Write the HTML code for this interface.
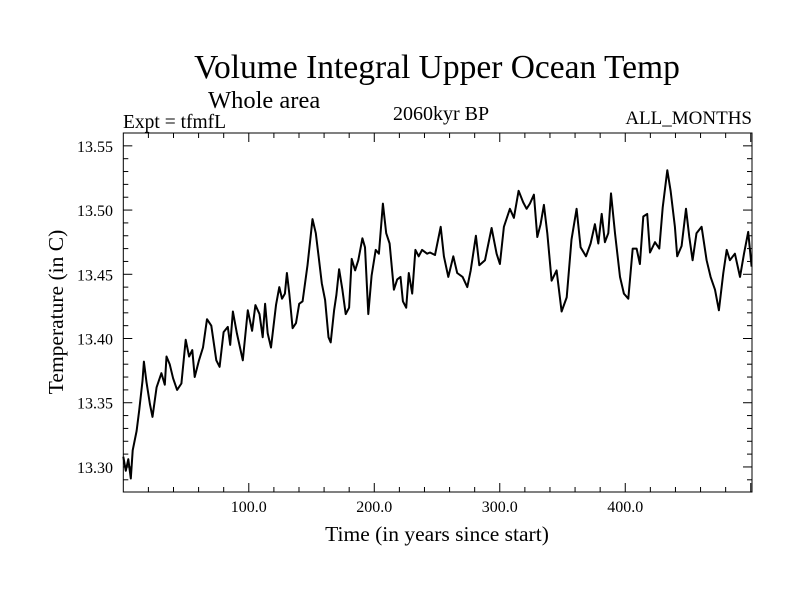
<!DOCTYPE html>
<html><head><meta charset="utf-8"><style>
html,body{margin:0;padding:0;background:#fff;}
svg{display:block;font-family:"Liberation Serif",serif;}
</style></head><body>
<svg id="chart" width="800" height="600" viewBox="0 0 800 600">
<text x="437" y="78" font-size="33.5" text-anchor="middle">Volume Integral Upper Ocean Temp</text>
<text x="208" y="108" font-size="24.5">Whole area</text>
<text x="123" y="128" font-size="19.5">Expt = tfmfL</text>
<text x="441" y="120" font-size="20" text-anchor="middle">2060kyr BP</text>
<text x="752" y="124" font-size="19" text-anchor="end">ALL_MONTHS</text>
<text x="437" y="541" font-size="21.5" text-anchor="middle">Time (in years since start)</text>
<text transform="translate(63,312) rotate(-90)" font-size="21.5" text-anchor="middle">Temperature (in C)</text>
<g id="axes"></g>
<path id="series" fill="none" stroke="#000" stroke-width="2" stroke-linejoin="round"/>
<rect x="123.3" y="133" width="628.7" height="359" fill="none" stroke="#000" stroke-width="1"/>
</svg>
<script>
const years=[0,2,4,6,7.5,10.6,12.7,15.3,16.4,18.5,21.2,23.3,26.5,30.4,33.1,34.4,37,39.7,42.9,46.3,49.7,52.4,55,56.9,60.3,63.5,66.7,70.1,74.1,76.7,79.9,83.3,85.2,87.3,90.5,95.2,99.2,102.6,105.3,108.5,111.1,113,115.1,117.7,121.7,124.3,126.5,128.8,130.4,132.3,134.9,137.6,140.2,142.9,146.8,150.8,153.4,155.6,158.2,160.8,163.5,165.3,168,169.8,172,174.6,177.2,179.9,182,184.7,187.3,190.5,192.6,195.2,197.9,201.1,203.7,206.9,209.5,212.2,215.6,218.3,220.9,222.8,225.4,227.5,230.2,232.8,235.4,238.1,242.1,244.4,248.4,252.9,255.5,259,263,266.1,270.4,274.1,276.8,281,283.7,288.2,293.5,297.5,300.1,303.3,308.1,311.3,315,318.7,321.4,324,327.2,329.9,332.5,335.2,337.9,341.3,345.3,349.3,353.3,357.2,361.2,364.4,368.7,372.4,375.8,378.5,381.2,383.8,386.5,388.6,391.8,395.8,398.9,402.4,405.9,409,411.7,414.4,417.5,419.7,423.7,427.1,429.8,433.5,436.1,439.6,441.4,444.9,448.4,451,453.7,456.8,460.8,464.8,468,471.5,474.6,478.1,480.8,483.4,487.4,491.4,494.6,498,500.7];
const temps=[13.308,13.297,13.306,13.291,13.313,13.328,13.344,13.367,13.382,13.366,13.349,13.339,13.362,13.373,13.364,13.386,13.380,13.369,13.360,13.365,13.399,13.386,13.391,13.370,13.383,13.393,13.415,13.410,13.383,13.378,13.405,13.409,13.395,13.421,13.404,13.383,13.422,13.406,13.426,13.419,13.401,13.427,13.404,13.393,13.426,13.440,13.431,13.435,13.451,13.435,13.408,13.412,13.427,13.429,13.457,13.493,13.482,13.464,13.443,13.430,13.401,13.397,13.422,13.434,13.454,13.438,13.419,13.424,13.462,13.453,13.461,13.478,13.471,13.419,13.449,13.469,13.466,13.505,13.482,13.474,13.438,13.446,13.448,13.429,13.424,13.451,13.435,13.469,13.464,13.469,13.466,13.467,13.465,13.487,13.464,13.448,13.464,13.451,13.448,13.440,13.453,13.480,13.457,13.461,13.486,13.466,13.458,13.487,13.501,13.494,13.515,13.506,13.501,13.505,13.512,13.479,13.489,13.504,13.482,13.445,13.453,13.421,13.432,13.477,13.501,13.471,13.464,13.474,13.489,13.474,13.497,13.475,13.482,13.513,13.482,13.448,13.435,13.431,13.470,13.470,13.458,13.495,13.497,13.467,13.475,13.470,13.502,13.531,13.515,13.487,13.464,13.472,13.501,13.479,13.461,13.482,13.487,13.461,13.448,13.438,13.422,13.451,13.469,13.461,13.466,13.448,13.466,13.483,13.456];
const xTickValues=[100,200,300,400];
const xTickLabels=["100.0","200.0","300.0","400.0"];
const yTickValues=[13.30,13.35,13.40,13.45,13.50,13.55];
const yTickLabels=["13.30","13.35","13.40","13.45","13.50","13.55"];

const X0=123.3,X1=752,Y0=492,Y1=133,XMIN=0,XMAX=501,YMIN=13.2805,YMAX=13.5600;
function sx(v){return X0+(v-XMIN)/(XMAX-XMIN)*(X1-X0);}
function sy(v){return Y0-(v-YMIN)/(YMAX-YMIN)*(Y0-Y1);}
const NS="http://www.w3.org/2000/svg";
const axes=document.getElementById('axes');
function ln(x1,y1,x2,y2,name){
  const l=document.createElementNS(NS,'line');
  l.setAttribute('x1',x1);l.setAttribute('y1',y1);l.setAttribute('x2',x2);l.setAttribute('y2',y2);
  l.setAttribute('stroke','#000');l.setAttribute('stroke-width','1');
  
  
  axes.appendChild(l);
}
function tx(x,y,s,anchor,name){
  const t=document.createElementNS(NS,'text');
  t.setAttribute('x',x);t.setAttribute('y',y);t.setAttribute('font-size','16');t.setAttribute('text-anchor',anchor);
  t.textContent=s;
  
  
  axes.appendChild(t);
}
for(let v=20;v<XMAX;v+=20){
  const major=v%100===0, L=major?9:5, x=sx(v);
  ln(x,Y0,x,Y0-L,'x-tick');
  ln(x,Y1,x,Y1+L,'x-tick-top');
}
for(let i=0;i<=27;i++){
  const v=13.29+i*0.01; if(v<YMIN||v>YMAX) continue;
  const major=Math.abs(Math.round(v*100)%5)===0, L=major?9:5, y=sy(v);
  ln(X0,y,X0+L,y,'y-tick');
  ln(X1,y,X1-L,y,'y-tick-right');
}
xTickValues.forEach((v,i)=>tx(sx(v),512,xTickLabels[i],'middle','x-tick-label'));
yTickValues.forEach((v,i)=>tx(113,sy(v)+6,yTickLabels[i],'end','y-tick-label'));
document.getElementById('series').setAttribute('d',years.map((y,i)=>(i?'L':'M')+sx(y).toFixed(1)+','+sy(temps[i]).toFixed(1)).join(''));
</script>
</body></html>
